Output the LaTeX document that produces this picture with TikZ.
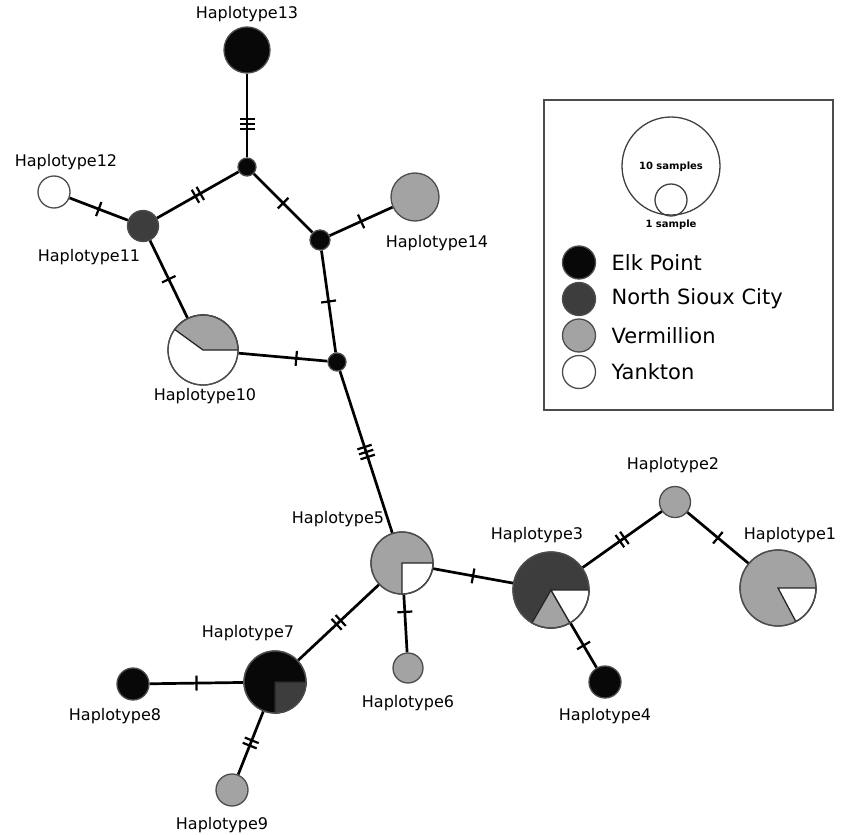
\documentclass[tikz,border=0pt]{standalone}
\usepackage{fontspec}
\setmainfont{DejaVu Sans}
\usetikzlibrary{decorations.markings,backgrounds,positioning}

\definecolor{elk}{gray}{0.03}
\definecolor{nsc}{gray}{0.24}
\definecolor{ver}{gray}{0.64}
\definecolor{rim}{gray}{0.30}

% one pie sector: centre, radius, start angle, end angle, colour
\newcommand{\hapslice}[5]{%
  \filldraw[fill=#5, draw=black!85, line width=1.3pt]
    (#1) -- ++(#3:#2) arc[start angle=#3, end angle=#4, radius=#2] -- cycle;}

\tikzset{
  hap/.style={circle, draw=rim, line width=1.3pt, minimum size=#1, inner sep=0pt},
  link/.style={line width=2.7pt},
  hlabel/.style={font=\fontsize{16}{18}\selectfont},
  tickone/.style={postaction={decorate}, decoration={markings,
      mark=at position #1 with {\draw[line width=2.2pt] (0,-7.5pt) -- (0,7.5pt);}}},
  tickone/.default=.5,
  ticktwo/.style={postaction={decorate}, decoration={markings,
      mark=at position #1 with {\draw[line width=2.2pt] (-2.8pt,-7.5pt) -- (-2.8pt,7.5pt)
                                                     (2.8pt,-7.5pt) -- (2.8pt,7.5pt);}}},
  ticktwo/.default=.5,
  tickthree/.style={postaction={decorate}, decoration={markings,
      mark=at position #1 with {\draw[line width=2.2pt] (-5.2pt,-7.5pt) -- (-5.2pt,7.5pt)
                                                     (0pt,-7.5pt) -- (0pt,7.5pt)
                                                     (5.2pt,-7.5pt) -- (5.2pt,7.5pt);}}},
  tickthree/.default=.5,
}

\begin{document}
\begin{tikzpicture}[x=1pt,y=-1pt]
  \useasboundingbox (0,0) rectangle (852,835);

  % haplotypes
  \node[hap=46pt, fill=elk] (h13) at (247,50) {};
  \node[hap=18pt, fill=elk] (j1) at (247,167) {};
  \node[hap=32pt, fill=white] (h12) at (54,192) {};
  \node[hap=31pt, fill=nsc] (h11) at (143,226) {};
  \node[hap=20pt, fill=elk] (j2) at (320,240) {};
  \node[hap=48pt, fill=ver] (h14) at (415,197) {};
  \node[hap=18pt, fill=elk] (j3) at (337,362) {};
  \node[hap=70pt, fill=white] (h10) at (203,350) {};
  \node[hap=62pt, fill=ver] (h5) at (402,563) {};
  \node[hap=76pt, fill=nsc] (h3) at (551,590) {};
  \node[hap=31pt, fill=ver] (h2) at (675,502) {};
  \node[hap=76pt, fill=ver] (h1) at (778,588) {};
  \node[hap=32pt, fill=elk] (h4) at (605,682) {};
  \node[hap=30pt, fill=ver] (h6) at (408,668) {};
  \node[hap=62pt, fill=elk] (h7) at (275,682) {};
  \node[hap=32pt, fill=elk] (h8) at (133,684) {};
  \node[hap=32pt, fill=ver] (h9) at (232,790) {};

  % pies
  \hapslice{h10.center}{35pt}{0}{144}{ver}
  \hapslice{h5.center}{31pt}{270}{360}{white}
  \hapslice{h3.center}{38pt}{240}{300}{ver}
  \hapslice{h3.center}{38pt}{300}{360}{white}
  \hapslice{h1.center}{38pt}{298}{360}{white}
  \hapslice{h7.center}{31pt}{270}{360}{nsc}
  \draw[rim, line width=1.3pt] (h10) circle (35pt) (h5) circle (31pt)
    (h3) circle (38pt) (h1) circle (38pt) (h7) circle (31pt);

  % labels
  \node[hlabel] (h13l) at (247,14) {Haplotype13};
  \node[hlabel] (h12l) at (66,162) {Haplotype12};
  \node[hlabel] (h11l) at (89,257) {Haplotype11};
  \node[hlabel] (h14l) at (437,243) {Haplotype14};
  \node[hlabel] (h10l) at (205,396) {Haplotype10};
  \node[hlabel] (h5l) at (338,519) {Haplotype5};
  \node[hlabel] (h3l) at (537,535) {Haplotype3};
  \node[hlabel] (h2l) at (673,465) {Haplotype2};
  \node[hlabel] (h1l) at (790,535) {Haplotype1};
  \node[hlabel] (h4l) at (605,716) {Haplotype4};
  \node[hlabel] (h6l) at (408,703) {Haplotype6};
  \node[hlabel] (h7l) at (248,633) {Haplotype7};
  \node[hlabel] (h8l) at (115,716) {Haplotype8};
  \node[hlabel] (h9l) at (222,825) {Haplotype9};

  % mutational steps
  \begin{scope}[on background layer]
    \draw[link, tickthree=.6] (h13) -- (j1);
    \draw[link, ticktwo] (j1) -- (h11);
    \draw[link, tickone] (h12) -- (h11);
    \draw[link, tickone] (j1) -- (j2);
    \draw[link, tickone] (j2) -- (h14);
    \draw[link, tickone] (h11) -- (h10);
    \draw[link, tickone] (j2) -- (j3);
    \draw[link, tickone=.65] (h10) -- (j3);
    \draw[link, tickthree] (j3) -- (h5);
    \draw[link, tickone] (h5) -- (h3);
    \draw[link, tickone=.3] (h5) -- (h6);
    \draw[link, ticktwo] (h5) -- (h7);
    \draw[link, ticktwo] (h3) -- (h2);
    \draw[link, tickone] (h2) -- (h1);
    \draw[link, tickone] (h3) -- (h4);
    \draw[link, tickone] (h7) -- (h8);
    \draw[link, ticktwo] (h7) -- (h9);
  \end{scope}

  % legend
  \draw[rim, line width=1.3pt] (544,100) rectangle (833,410);
  \node[hap=98pt, draw=black!75] (big) at (671,166) {};
  \node[hap=32pt, draw=black!75] (small) at (671,200) {};
  \node[font=\bfseries\fontsize{10}{12}\selectfont] (bigl) at (671,167) {10 samples};
  \node[font=\bfseries\fontsize{10}{12}\selectfont] (smalll) at (671,225) {1 sample};
  \foreach \col/\txt [count=\i] in {elk/Elk Point, nsc/North Sioux City, ver/Vermillion, white/Yankton} {
    \node[hap=33pt, fill=\col] (key\i) at (579,226+36.5*\i) {};
    \node[right=12pt of key\i, font=\fontsize{21}{24}\selectfont] (keyl\i) {\txt};
  }
\end{tikzpicture}
\end{document}
